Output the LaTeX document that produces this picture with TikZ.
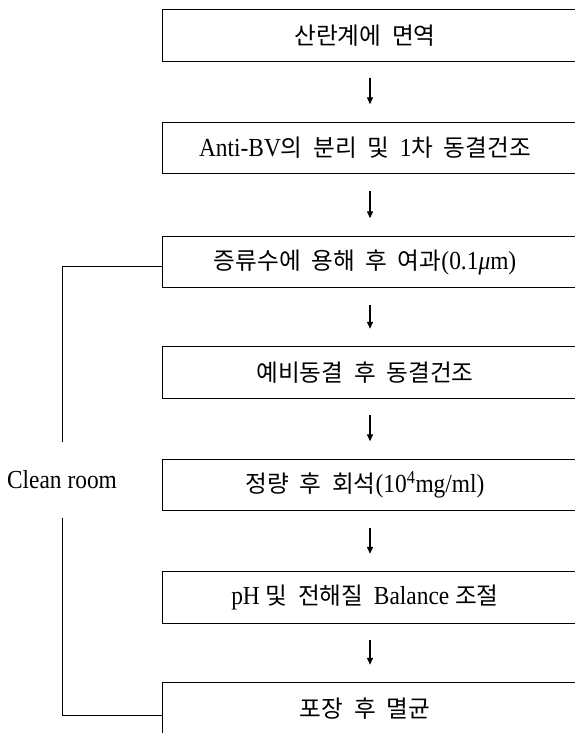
\documentclass[tikz,border=0pt]{standalone}
\usepackage{fontspec}
\setmainfont{Liberation Serif}[FakeStretch=0.9]
\newfontfamily\kr{Noto Sans CJK KR}[Scale=0.91, WordSpace=2]
\usetikzlibrary{arrows.meta}
\tikzset{
  stepbox/.style={minimum width=404pt, minimum height=51pt, inner sep=0pt,
    font=\fontsize{26}{30}\selectfont},
  boxline/.style={line width=1.3pt},
  flowarrow/.style={line width=1.3pt, -{Triangle[length=7pt,width=6pt]},
    shorten <=17pt, shorten >=18pt},
  bracket/.style={line width=1pt},
  sidelabel/.style={minimum height=76pt, inner sep=0pt,
    font=\fontsize{26}{30}\selectfont}
}
\begin{document}
\begin{tikzpicture}[x=1pt,y=-1pt]
\useasboundingbox (0,0) rectangle (575,733);
\node[stepbox] (b1) at (365,35.5) {\kr 산란계에 면역};
\node[stepbox] (b2) at (365,148) {Anti-BV{\kr 의 분리 및 }1{\kr 차 동결건조}};
\node[stepbox] (b3) at (365,262) {{\kr 증류수에 용해 후 여과}(0.1\textit{μ}m)};
\node[stepbox] (b4) at (365,372.5) {\kr 예비동결 후 동결건조};
\node[stepbox] (b5) at (365,485) {{\kr 정량 후 회석}(10\textsuperscript{4}mg/ml)};
\node[stepbox] (b6) at (365,597.5) {pH {\kr 및 전해질 }Balance {\kr 조절}};
\node[stepbox] (b7) at (365,708.5) {\kr 포장 후 멸균};
\foreach \b in {b1,b2,b3,b4,b5,b6,b7}{
  \draw[boxline] ([xshift=40pt]\b.north east) -- (\b.north west)
    -- (\b.south west) -- ([xshift=40pt]\b.south east);
}
\foreach \a/\b in {b1/b2,b2/b3,b3/b4,b4/b5,b5/b6,b6/b7}{
  \draw[flowarrow] ([xshift=5pt]\a.south) -- ([xshift=5pt]\b.north);
}
\node[sidelabel] (cr) at (62,480) {Clean room};
\draw[bracket] ([yshift=-4pt]b3.west) -| (cr.north);
\draw[bracket] (cr.south) |- ([yshift=-6.5pt]b7.west);
\end{tikzpicture}
\end{document}
